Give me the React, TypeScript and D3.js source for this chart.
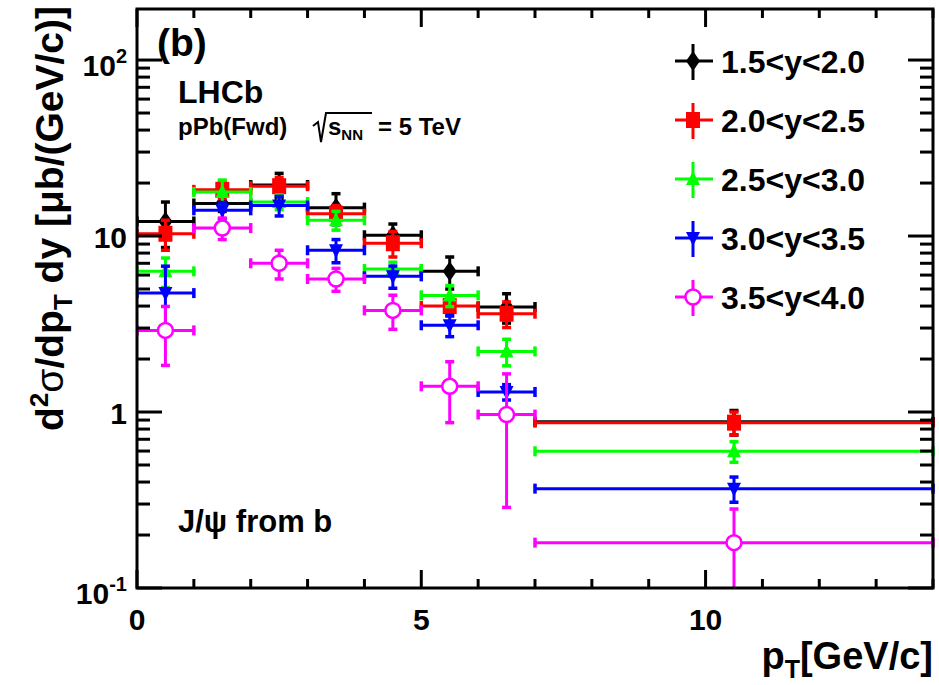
import React, { useRef, useEffect } from 'react';
import * as d3 from 'd3';

// pT bins [GeV/c]
const binLo = [0, 1, 2, 3, 4, 5, 6, 7];
const binHi = [1, 2, 3, 4, 5, 6, 7, 14];
const binCenter = [0.5, 1.5, 2.5, 3.5, 4.5, 5.5, 6.5, 10.5];

// d2sigma/dpT dy [ub/(GeV/c)] per rapidity bin, values and errors
const y15to20 = [12.1, 15.3, 19.5, 14.5, 10.1, 6.3, 3.95, 0.88];
const e15to20 = [3.5, 1.5, 3.2, 2.9, 1.6, 1.3, 0.75, 0.14];
const y20to25 = [10.3, 18.3, 19.2, 13.4, 9.1, 4.0, 3.62, 0.87];
const e20to25 = [2.0, 2.0, 2.3, 1.5, 1.5, 0.5, 0.6, 0.13];
const y25to30 = [6.3, 17.8, 15.6, 12.3, 6.5, 4.6, 2.21, 0.598];
const e25to30 = [1.2, 3.0, 1.5, 1.5, 0.6, 0.63, 0.38, 0.08];
const y30to35 = [4.74, 14.0, 14.9, 8.3, 5.9, 3.11, 1.3, 0.367];
const e30to35 = [2.0, 1.5, 1.9, 1.25, 0.85, 0.43, 0.13, 0.06];
const y35to40 = [2.91, 11.1, 7.0, 5.7, 3.78, 1.4, 0.967, 0.181];
const e35to40 = [1.07, 1.55, 1.3, 0.85, 0.83, 0.53, 0.68, 0.1];

const seriesLabels = ['1.5<y<2.0', '2.0<y<2.5', '2.5<y<3.0', '3.0<y<3.5', '3.5<y<4.0'];
const seriesColors = ['#000000', '#ff0000', '#00ff00', '#0000ff', '#ff00ff'];
const seriesMarkers = ['diamond', 'square', 'triUp', 'triDown', 'circle'];
const seriesValues = [y15to20, y20to25, y25to30, y30to35, y35to40];
const seriesErrors = [e15to20, e20to25, e25to30, e30to35, e35to40];

const xMajor = [0, 5, 10];
const yMajor = [0.1, 1, 10, 100];

const FONT = "'Liberation Sans', Arial, Helvetica, sans-serif";

const drawMarker = (g, kind, cx, cy, color) => {
  if (kind === 'diamond') {
    g.append('path').attr('d', `M${cx},${cy - 10}L${cx + 7},${cy}L${cx},${cy + 10}L${cx - 7},${cy}Z`).attr('fill', color);
  } else if (kind === 'square') {
    g.append('rect').attr('x', cx - 7).attr('y', cy - 8).attr('width', 14).attr('height', 16).attr('fill', color);
  } else if (kind === 'triUp') {
    g.append('path').attr('d', `M${cx},${cy - 8}L${cx + 7},${cy + 6}L${cx - 7},${cy + 6}Z`).attr('fill', color);
  } else if (kind === 'triDown') {
    g.append('path').attr('d', `M${cx},${cy + 8}L${cx + 7},${cy - 6}L${cx - 7},${cy - 6}Z`).attr('fill', color);
  } else {
    g.append('circle').attr('cx', cx).attr('cy', cy).attr('r', 7.5)
      .attr('fill', 'white').attr('stroke', color).attr('stroke-width', 2.5);
  }
};

const App = () => {
  const svgRef = useRef(null);

  useEffect(() => {
    const width = 939;
    const height = 685;
    const left = 137, right = 933, top = 9, bottom = 588;

    const svg = d3.select(svgRef.current)
      .attr('width', width)
      .attr('height', height)
      .style('background', 'white');

    svg.selectAll('*').remove();

    const x = d3.scaleLinear().domain([0, 14]).range([left, right]);
    const y = d3.scaleLog().domain([0.1, 195]).range([bottom, top]);

    svg.append('defs').append('clipPath').attr('id', 'plotclip')
      .append('rect').attr('x', left).attr('y', top)
      .attr('width', right - left + 3).attr('height', bottom - top);

    // data
    const data = svg.append('g').attr('clip-path', 'url(#plotclip)');
    seriesValues.forEach((vals, s) => {
      const col = seriesColors[s];
      const g = data.append('g');
      vals.forEach((v, i) => {
        const cx = x(binCenter[i]);
        const cy = y(v);
        const x0 = x(binLo[i]);
        const x1 = x(binHi[i]);
        const lo = v - seriesErrors[s][i];
        const y0 = lo > 0 ? y(lo) : bottom + 10;
        const y1 = y(v + seriesErrors[s][i]);
        g.append('line').attr('x1', x0).attr('x2', x1).attr('y1', cy).attr('y2', cy)
          .attr('stroke', col).attr('stroke-width', 3);
        g.append('line').attr('x1', cx).attr('x2', cx).attr('y1', y0).attr('y2', y1)
          .attr('stroke', col).attr('stroke-width', 3);
        // end caps
        [x0, x1].forEach(xx => g.append('line').attr('x1', xx).attr('x2', xx)
          .attr('y1', cy - 5).attr('y2', cy + 5).attr('stroke', col).attr('stroke-width', 3.5));
        [y0, y1].forEach(yy => g.append('line').attr('x1', cx - 4.5).attr('x2', cx + 4.5)
          .attr('y1', yy).attr('y2', yy).attr('stroke', col).attr('stroke-width', 3.5));
        drawMarker(g, seriesMarkers[s], cx, cy, col);
      });
    });

    // frame and ticks
    const axes = svg.append('g').attr('stroke', 'black');
    axes.append('rect').attr('x', left).attr('y', top)
      .attr('width', right - left).attr('height', bottom - top)
      .attr('fill', 'none').attr('stroke-width', 3);

    d3.range(0, 15, 1).forEach(t => {
      const len = xMajor.includes(t) ? 18 : 9;
      axes.append('line').attr('x1', x(t)).attr('x2', x(t)).attr('y1', bottom).attr('y2', bottom - len).attr('stroke-width', 3);
      axes.append('line').attr('x1', x(t)).attr('x2', x(t)).attr('y1', top).attr('y2', top + len).attr('stroke-width', 3);
    });

    y.ticks().forEach(t => {
      const len = yMajor.includes(t) ? 25 : 13;
      axes.append('line').attr('x1', left).attr('x2', left + len).attr('y1', y(t)).attr('y2', y(t)).attr('stroke-width', 3);
      axes.append('line').attr('x1', right).attr('x2', right - len).attr('y1', y(t)).attr('y2', y(t)).attr('stroke-width', 3);
    });

    const txt = svg.append('g').attr('font-family', FONT).attr('font-weight', 'bold').attr('fill', 'black');

    // x tick labels
    xMajor.forEach(t => {
      txt.append('text').attr('x', x(t)).attr('y', 630).attr('text-anchor', 'middle')
        .attr('font-size', 30).text(String(t));
    });

    // y tick labels
    const yl = [
      { v: 0.1, base: '10', sup: '-1' },
      { v: 1, base: '1', sup: '' },
      { v: 10, base: '10', sup: '' },
      { v: 100, base: '10', sup: '2' },
    ];
    yl.forEach(d => {
      const t = txt.append('text').attr('x', 127).attr('y', y(d.v) + (d.sup ? 16 : 12))
        .attr('text-anchor', 'end').attr('font-size', 30);
      t.append('tspan').text(d.base);
      if (d.sup) t.append('tspan').attr('font-size', 20).attr('dy', -13).text(d.sup);
    });

    // y title
    const yt = txt.append('text').attr('transform', 'translate(63,6) rotate(-90)')
      .attr('text-anchor', 'end').attr('font-size', 39);
    yt.append('tspan').text('d');
    yt.append('tspan').attr('font-size', 26).attr('dy', -15).text('2');
    yt.append('tspan').attr('dy', 15).attr('font-weight', 'normal').text('σ');
    yt.append('tspan').text('/dp');
    yt.append('tspan').attr('font-size', 26).attr('dy', 9).text('T');
    yt.append('tspan').attr('dy', -9).text(' dy [μb/(GeV/c)]');

    // x title
    const xt = txt.append('text').attr('x', 933).attr('y', 669).attr('text-anchor', 'end').attr('font-size', 38);
    xt.append('tspan').text('p');
    xt.append('tspan').attr('font-size', 25).attr('dy', 9).text('T');
    xt.append('tspan').attr('dy', -9).text('[GeV/c]');

    // annotations
    txt.append('text').attr('x', 157).attr('y', 56).attr('font-size', 39).text('(b)');
    txt.append('text').attr('x', 178).attr('y', 103).attr('font-size', 32).text('LHCb');
    txt.append('text').attr('x', 178).attr('y', 135).attr('font-size', 24).text('pPb(Fwd)');
    svg.append('path').attr('d', 'M313,126L318,122L321,142L326,113L372,113')
      .attr('fill', 'none').attr('stroke', 'black').attr('stroke-width', 2);
    const sq = txt.append('text').attr('x', 328).attr('y', 135).attr('font-size', 24);
    sq.append('tspan').text('s');
    sq.append('tspan').attr('font-size', 15).attr('dy', 5).text('NN');
    sq.append('tspan').attr('dy', -5).attr('x', 378).text('= 5 TeV');
    txt.append('text').attr('x', 178).attr('y', 532).attr('font-size', 31).text('J/ψ from b');

    // legend
    seriesLabels.forEach((lab, s) => {
      const cy = 61 + s * 59;
      const cx = 693;
      const col = seriesColors[s];
      svg.append('line').attr('x1', cx - 18).attr('x2', cx + 20).attr('y1', cy).attr('y2', cy)
        .attr('stroke', col).attr('stroke-width', 3);
      svg.append('line').attr('x1', cx).attr('x2', cx).attr('y1', cy - 17).attr('y2', cy + 19)
        .attr('stroke', col).attr('stroke-width', 3);
      drawMarker(svg, seriesMarkers[s], cx, cy, col);
      txt.append('text').attr('x', 721).attr('y', cy + 12).attr('font-size', 32).text(lab);
    });
  }, []);

  return (
    <svg ref={svgRef} style={{ position: 'absolute', left: 0, top: 0 }}></svg>
  );
};

export default App;
